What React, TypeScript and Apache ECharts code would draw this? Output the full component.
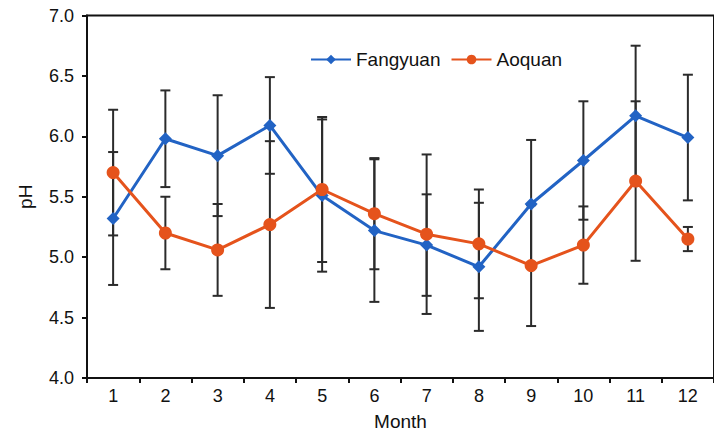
import React, { useEffect, useRef } from "react";
import * as echarts from "echarts";

const months = ["1", "2", "3", "4", "5", "6", "7", "8", "9", "10", "11", "12"];
const fangyuan = [5.32, 5.98, 5.84, 6.09, 5.51, 5.22, 5.1, 4.92, 5.44, 5.8, 6.17, 5.99];
const fangyuanErr = [0.55, 0.4, 0.5, 0.4, 0.63, 0.59, 0.42, 0.53, 0.53, 0.49, 0.58, 0.52];
const aoquan = [5.7, 5.2, 5.06, 5.27, 5.56, 5.36, 5.19, 5.11, 4.93, 5.1, 5.63, 5.15];
const aoquanErr = [0.52, 0.3, 0.38, 0.69, 0.6, 0.46, 0.66, 0.45, 0.5, 0.32, 0.66, 0.1];

const BLUE = "#2263c4";
const ORANGE = "#e5531c";
const FONT = "'Liberation Sans', Arial, sans-serif";

function errData(vals: number[], errs: number[]) {
  return vals.map((v, i) => [i, v - errs[i], v + errs[i]]);
}

function renderErr(params: any, api: any) {
  const x = api.value(0);
  const lo = api.coord([x, api.value(1)]);
  const hi = api.coord([x, api.value(2)]);
  const hw = 5;
  const style = { stroke: "#2b2b2b", lineWidth: 2 };
  return {
    type: "group",
    children: [
      { type: "line", shape: { x1: hi[0], y1: hi[1], x2: lo[0], y2: lo[1] }, style },
      { type: "line", shape: { x1: hi[0] - hw, y1: hi[1], x2: hi[0] + hw, y2: hi[1] }, style },
      { type: "line", shape: { x1: lo[0] - hw, y1: lo[1], x2: lo[0] + hw, y2: lo[1] }, style },
    ],
  };
}

export default function App() {
  const ref = useRef<HTMLDivElement>(null);
  useEffect(() => {
    if (!ref.current) return;
    const chart = echarts.init(ref.current, null, { renderer: "svg" });
    chart.setOption({
      animation: false,
      backgroundColor: "#ffffff",
      textStyle: { fontFamily: FONT },
      grid: {
        left: 87,
        top: 15.5,
        bottom: 59,
        right: -2,
        show: true,
        borderColor: "#111",
        borderWidth: 2,
      },
      legend: {
        left: 310,
        top: 50,
        padding: 0,
        itemWidth: 40,
        itemHeight: 12,
        itemGap: 10,
        data: ["Fangyuan", "Aoquan"],
        textStyle: { fontSize: 19, color: "#111", fontFamily: FONT },
      },
      xAxis: {
        type: "category",
        data: months,
        name: "Month",
        nameLocation: "middle",
        nameGap: 34,
        nameTextStyle: { fontSize: 19, color: "#111", fontFamily: FONT },
        axisLine: { lineStyle: { color: "#111", width: 2 } },
        axisTick: { show: true, length: 5, lineStyle: { color: "#111", width: 2 } },
        axisLabel: { fontSize: 18, color: "#111", margin: 9, fontFamily: FONT },
        splitLine: { show: false },
      },
      yAxis: {
        type: "value",
        min: 4,
        max: 7,
        interval: 0.5,
        name: "pH",
        nameLocation: "middle",
        nameGap: 52,
        nameTextStyle: { fontSize: 19, color: "#111", fontFamily: FONT },
        axisLine: { show: true, lineStyle: { color: "#111", width: 2 } },
        axisTick: { show: true, length: 5, lineStyle: { color: "#111", width: 2 } },
        axisLabel: {
          fontSize: 18,
          color: "#111",
          margin: 13,
          fontFamily: FONT,
          formatter: (v: number) => v.toFixed(1),
        },
        splitLine: { show: false },
      },
      series: [
        {
          type: "custom",
          name: "errF",
          renderItem: renderErr,
          data: errData(fangyuan, fangyuanErr),
          z: 1,
          silent: true,
        },
        {
          type: "custom",
          name: "errA",
          renderItem: renderErr,
          data: errData(aoquan, aoquanErr),
          z: 1,
          silent: true,
        },
        {
          type: "line",
          name: "Fangyuan",
          data: fangyuan,
          symbol: "diamond",
          symbolSize: 13,
          lineStyle: { color: BLUE, width: 3 },
          itemStyle: { color: BLUE },
          z: 3,
        },
        {
          type: "line",
          name: "Aoquan",
          data: aoquan,
          symbol: "circle",
          symbolSize: 13,
          lineStyle: { color: ORANGE, width: 3 },
          itemStyle: { color: ORANGE },
          z: 4,
        },
      ],
    });
    return () => chart.dispose();
  }, []);
  return <div ref={ref} style={{ width: 714, height: 437, position: "absolute", left: 0, top: 0 }} />;
}
